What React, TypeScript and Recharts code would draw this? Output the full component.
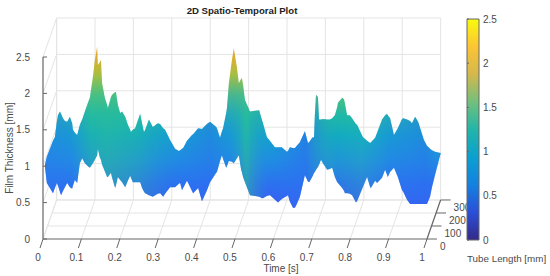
import React from 'react';
import { ComposedChart, BarChart, Bar, Area, XAxis, YAxis, ReferenceLine, ReferenceDot } from 'recharts';

const time = [.005,.010,.018,.026,.031,.036,.039,.044,.047,.052,.057,.063,.070,.076,.078,.083,.089,.096,.102,.109,.117,.122,.130,.135,.141,.143,.148,.151,.154,.161,.167,.169,.177,.180,.188,.190,.195,.201,.206,.214,.221,.227,.229,.234,.240,.253,.258,.263,.266,.276,.286,.299,.305,.313,.318,.331,.344,.354,.357,.362,.365,.375,.388,.391,.404,.414,.427,.435,.451,.453,.461,.466,.469,.477,.479,.484,.492,.497,.505,.510,.516,.518,.521,.526,.539,.552,.563,.570,.573,.583,.591,.604,.612,.622,.635,.638,.643,.651,.656,.661,.669,.682,.690,.693,.701,.706,.708,.711,.716,.719,.724,.729,.740,.747,.753,.760,.766,.768,.779,.784,.786,.792,.799,.805,.815,.818,.833,.844,.852,.854,.865,.870,.883,.891,.896,.898,.904,.914,.924,.935,.938,.948,.956,.961,.969,.977,.992,1.000,1.008,1.013,1.021,1.036];
const filmTop = [1.02,1.13,1.24,1.35,1.40,1.61,1.70,1.75,1.72,1.66,1.62,1.61,1.68,1.59,1.50,1.46,1.43,1.57,1.64,1.75,1.87,1.94,2.23,2.46,2.64,2.39,2.43,2.46,2.14,1.94,1.84,1.80,1.95,1.98,2.02,2.02,1.84,1.73,1.75,1.68,1.57,1.50,1.47,1.50,1.52,1.72,1.59,1.47,1.50,1.64,1.54,1.59,1.58,1.52,1.50,1.36,1.24,1.21,1.22,1.24,1.25,1.35,1.43,1.44,1.52,1.51,1.58,1.61,1.54,1.52,1.39,1.48,1.52,1.73,1.80,2.14,2.46,2.62,2.36,2.14,2.20,2.21,2.12,1.91,1.75,1.76,1.77,1.64,1.59,1.40,1.35,1.26,1.26,1.26,1.20,1.21,1.26,1.25,1.25,1.28,1.33,1.48,1.32,1.33,1.39,1.40,1.70,1.98,1.95,1.64,1.64,1.65,1.64,1.64,1.66,1.70,1.81,1.87,1.94,1.92,1.87,1.70,1.70,1.66,1.58,1.57,1.40,1.35,1.32,1.33,1.39,1.46,1.64,1.70,1.72,1.70,1.66,1.43,1.52,1.65,1.66,1.64,1.62,1.59,1.68,1.61,1.36,1.28,1.24,1.22,1.20,1.18];
const filmBottom = [.99,.77,.70,.63,.70,.77,.73,.65,.60,.66,.71,.77,.71,.69,.73,.81,.77,1.04,1.11,1.04,1.00,.98,1.04,1.09,1.15,1.24,1.12,1.09,1.02,.93,.85,.85,.91,.84,.70,.74,.85,.81,.78,.71,.80,.87,.84,.78,.78,.78,.70,.65,.63,.60,.58,.62,.63,.58,.62,.71,.71,.76,.77,.67,.70,.80,.66,.63,.70,.52,.67,.78,.91,.92,1.07,1.15,1.10,.98,1.00,1.07,1.06,1.04,1.11,1.15,.95,.92,.85,.78,.60,.59,.58,.56,.56,.59,.60,.54,.50,.55,.59,.60,.51,.43,.43,.48,.58,.88,.79,.78,.85,.91,.92,.95,.99,1.02,1.09,1.04,.95,.96,.98,.85,.78,.77,.70,.66,.63,.63,.62,.60,.50,.52,.71,.85,.71,.70,.80,.77,.84,.95,.88,.85,.92,.98,.85,.67,.65,.54,.48,.48,.48,.48,.48,.48,.58,.71,.88,1.18];

const timeTicks = [0, .1, .2, .3, .4, .5, .6, .7, .8, .9, 1];
const filmTicks = [0, .5, 1, 1.5, 2, 2.5];
const depthTicks = [0, 100, 200, 300];
const colorTicks = [0, .5, 1, 1.5, 2, 2.5];

const surfaceRows = time.map((t, i) => ({ t, range: [filmBottom[i], filmTop[i]] }));
const colorRows = [{ name: 'scale', span: [0, 2.5] }];

const FONT = '"Liberation Sans", Arial, sans-serif';
const INK = '#4a4a4a';
const GRID = '#e4e4e4';
const AXIS = '#666666';

// oblique projection of the 3-D box on the front plane
const DEPTH_T = 0.0355;
const DEPTH_Z = 0.536;
const project = (t: number, z: number, d: number) => ({
  x: t + (DEPTH_T * d) / 300,
  y: z + (DEPTH_Z * d) / 300,
});

type Seg = [{ x: number; y: number }, { x: number; y: number }];
const gridSegs: Seg[] = [
  ...timeTicks.map((t) => [project(t, 2.5, 300), project(t, 0, 300)] as Seg),
  ...filmTicks.map((z) => [project(0, z, 300), project(1, z, 300)] as Seg),
  ...filmTicks.map((z) => [project(0, z, 0), project(0, z, 300)] as Seg),
  ...timeTicks.map((t) => [project(t, 0, 0), project(t, 0, 300)] as Seg),
  ...depthTicks.slice(1).map((d) => [project(0, 0, d), project(1, 0, d)] as Seg),
  ...depthTicks.slice(1).map((d) => [project(0, 0, d), project(0, 2.5, d)] as Seg).slice(2),
];

const TimeTick = (p: any) => (
  <g>
    <line x1={p.x} y1={p.y} x2={p.x - 3} y2={p.y + 9} stroke={AXIS} strokeWidth={1} />
    <text x={p.x - 5} y={p.y + 22} textAnchor="middle" fontSize={10} fontFamily={FONT} fill={INK}>
      {p.payload.value}
    </text>
  </g>
);
const FilmTick = (p: any) => (
  <g>
    <line x1={p.x} y1={p.y} x2={p.x + 4} y2={p.y} stroke={AXIS} strokeWidth={1} />
    <text x={p.x - 13} y={p.y + 3.5} textAnchor="end" fontSize={10} fontFamily={FONT} fill={INK}>
      {p.payload.value}
    </text>
  </g>
);
const ColorTick = (p: any) => (
  <g>
    <line x1={p.x - 12} y1={p.y} x2={p.x - 10} y2={p.y} stroke={AXIS} strokeWidth={1} />
    <text x={p.x + 4} y={p.y + 3.5} textAnchor="start" fontSize={10} fontFamily={FONT} fill={INK}>
      {p.payload.value}
    </text>
  </g>
);

export default function App() {
  return (
    <div style={{ position: 'fixed', left: 0, top: 0, width: 550, height: 276, background: '#fff' }}>
      <div style={{ position: 'absolute', left: 0, top: 0 }}>
        <ComposedChart width={550} height={276} data={surfaceRows} margin={{ top: 19, right: 109, bottom: 0, left: 0 }}>
          <defs>
            <linearGradient id="surfaceZ" gradientUnits="userSpaceOnUse" x1="0" y1="47" x2="0" y2="205">
              <stop offset="0" stopColor="#e8a028" />
              <stop offset="0.08" stopColor="#d8b030" />
              <stop offset="0.18" stopColor="#a8c040" />
              <stop offset="0.30" stopColor="#50c080" />
              <stop offset="0.43" stopColor="#20b8a8" />
              <stop offset="0.56" stopColor="#10a8c8" />
              <stop offset="0.72" stopColor="#1e90e0" />
              <stop offset="0.87" stopColor="#2c70f0" />
              <stop offset="1" stopColor="#3a5cf0" />
            </linearGradient>
            <linearGradient id="ridges" gradientUnits="userSpaceOnUse" x1="43" y1="0" x2="441" y2="0">
              <stop offset="0.00" stopColor="#2c78f0" stopOpacity="0.55" />
              <stop offset="0.07" stopColor="#2c78f0" stopOpacity="0.35" />
              <stop offset="0.12" stopColor="#30c090" stopOpacity="0.35" />
              <stop offset="0.16" stopColor="#30c090" stopOpacity="0.5" />
              <stop offset="0.24" stopColor="#30c090" stopOpacity="0.3" />
              <stop offset="0.33" stopColor="#2c78f0" stopOpacity="0.2" />
              <stop offset="0.42" stopColor="#2c70f0" stopOpacity="0.55" />
              <stop offset="0.47" stopColor="#2c78f0" stopOpacity="0.3" />
              <stop offset="0.51" stopColor="#30c090" stopOpacity="0.55" />
              <stop offset="0.57" stopColor="#2c78f0" stopOpacity="0.1" />
              <stop offset="0.66" stopColor="#2c70f0" stopOpacity="0.7" />
              <stop offset="0.74" stopColor="#30c090" stopOpacity="0.1" />
              <stop offset="0.80" stopColor="#30c0a0" stopOpacity="0.25" />
              <stop offset="0.87" stopColor="#2c78f0" stopOpacity="0.3" />
              <stop offset="0.96" stopColor="#2c70f0" stopOpacity="0.5" />
              <stop offset="1" stopColor="#2c78f0" stopOpacity="0.1" />
            </linearGradient>
            <linearGradient id="fadeTopGrad" gradientUnits="userSpaceOnUse" x1="0" y1="70" x2="0" y2="125">
              <stop offset="0" stopColor="#000" />
              <stop offset="1" stopColor="#fff" />
            </linearGradient>
            <mask id="fadeTop" maskUnits="userSpaceOnUse" x="0" y="0" width="550" height="276">
              <rect x="0" y="0" width="550" height="276" fill="url(#fadeTopGrad)" />
            </mask>
          </defs>
          <XAxis dataKey="t" type="number" domain={[0, 1.0365]} allowDataOverflow ticks={timeTicks} interval={0} tick={TimeTick} tickLine={false} axisLine={false} tickSize={0} tickMargin={0} height={37} />
          <YAxis type="number" domain={[0, 3.022]} allowDataOverflow ticks={filmTicks} interval={0} tick={FilmTick} tickLine={false} axisLine={false} tickSize={0} tickMargin={0} width={43} />
          {gridSegs.map((s, i) => (
            <ReferenceLine key={i} segment={s} stroke={GRID} strokeWidth={1} ifOverflow="visible" zIndex={-1} />
          ))}
          <Area dataKey="range" type="linear" stroke="none" fill="url(#surfaceZ)" fillOpacity={1} isAnimationActive={false} dot={false} activeDot={false} />
          <Area dataKey="range" type="linear" stroke="none" fill="url(#ridges)" fillOpacity={1} mask="url(#fadeTop)" isAnimationActive={false} dot={false} activeDot={false} />
          <ReferenceLine segment={[project(0, 0, 0), project(0, 2.5, 0)]} stroke={AXIS} strokeWidth={1.2} ifOverflow="visible" />
          <ReferenceLine segment={[project(0, 0, 0), project(1, 0, 0)]} stroke={AXIS} strokeWidth={1.2} ifOverflow="visible" />
          <ReferenceLine segment={[project(1, 0, 0), project(1, 0, 300)]} stroke={AXIS} strokeWidth={1.2} ifOverflow="visible" />
          {depthTicks.map((d) => {
            const a = project(1, 0, d);
            return <ReferenceLine key={d} segment={[a, { x: a.x + 0.026, y: a.y }]} stroke={AXIS} strokeWidth={1} ifOverflow="visible" />;
          })}
          {depthTicks.map((d) => {
            const a = project(1, 0, d);
            return (
              <ReferenceDot key={d} x={a.x} y={a.y} r={0} ifOverflow="visible"
                shape={(p: any) => (
                  <text x={p.cx + 13} y={p.cy + 11} fontSize={10} fontFamily={FONT} fill={INK}>{d}</text>
                )} />
            );
          })}
          <text x={242} y={13.5} textAnchor="middle" fontSize={9.6} fontWeight="bold" fontFamily={FONT} fill="#222">2D Spatio-Temporal Plot</text>
          <text x={281} y={271.5} textAnchor="middle" fontSize={10} fontFamily={FONT} fill={INK}>Time [s]</text>
          <text transform="translate(13,148) rotate(-90)" textAnchor="middle" fontSize={10} fontFamily={FONT} fill={INK}>Film Thickness [mm]</text>
        </ComposedChart>
      </div>
      <div style={{ position: 'absolute', left: 460, top: 0 }}>
        <BarChart width={90} height={276} data={colorRows} margin={{ top: 19, right: 0, bottom: 36, left: 7 }} barCategoryGap={0}>
          <defs>
            <linearGradient id="parula" x1="0" y1="1" x2="0" y2="0">
              <stop offset="0" stopColor="#352a87" />
              <stop offset="0.125" stopColor="#2a4fd8" />
              <stop offset="0.25" stopColor="#1481e0" />
              <stop offset="0.375" stopColor="#0aa0d0" />
              <stop offset="0.5" stopColor="#22b5a8" />
              <stop offset="0.625" stopColor="#72c07c" />
              <stop offset="0.75" stopColor="#d4b84c" />
              <stop offset="0.875" stopColor="#fcc434" />
              <stop offset="1" stopColor="#f9fb0e" />
            </linearGradient>
          </defs>
          <XAxis dataKey="name" hide />
          <YAxis orientation="right" type="number" domain={[0, 2.5]} ticks={colorTicks} interval={0} tick={ColorTick} tickLine={false} axisLine={false} tickSize={0} tickMargin={0} width={71} />
          <Bar dataKey="span" fill="url(#parula)" stroke={AXIS} strokeWidth={1} isAnimationActive={false} />
          <text x={7} y={262} fontSize={9.8} fontFamily={FONT} fill={INK}>Tube Length [mm]</text>
        </BarChart>
      </div>
    </div>
  );
}
